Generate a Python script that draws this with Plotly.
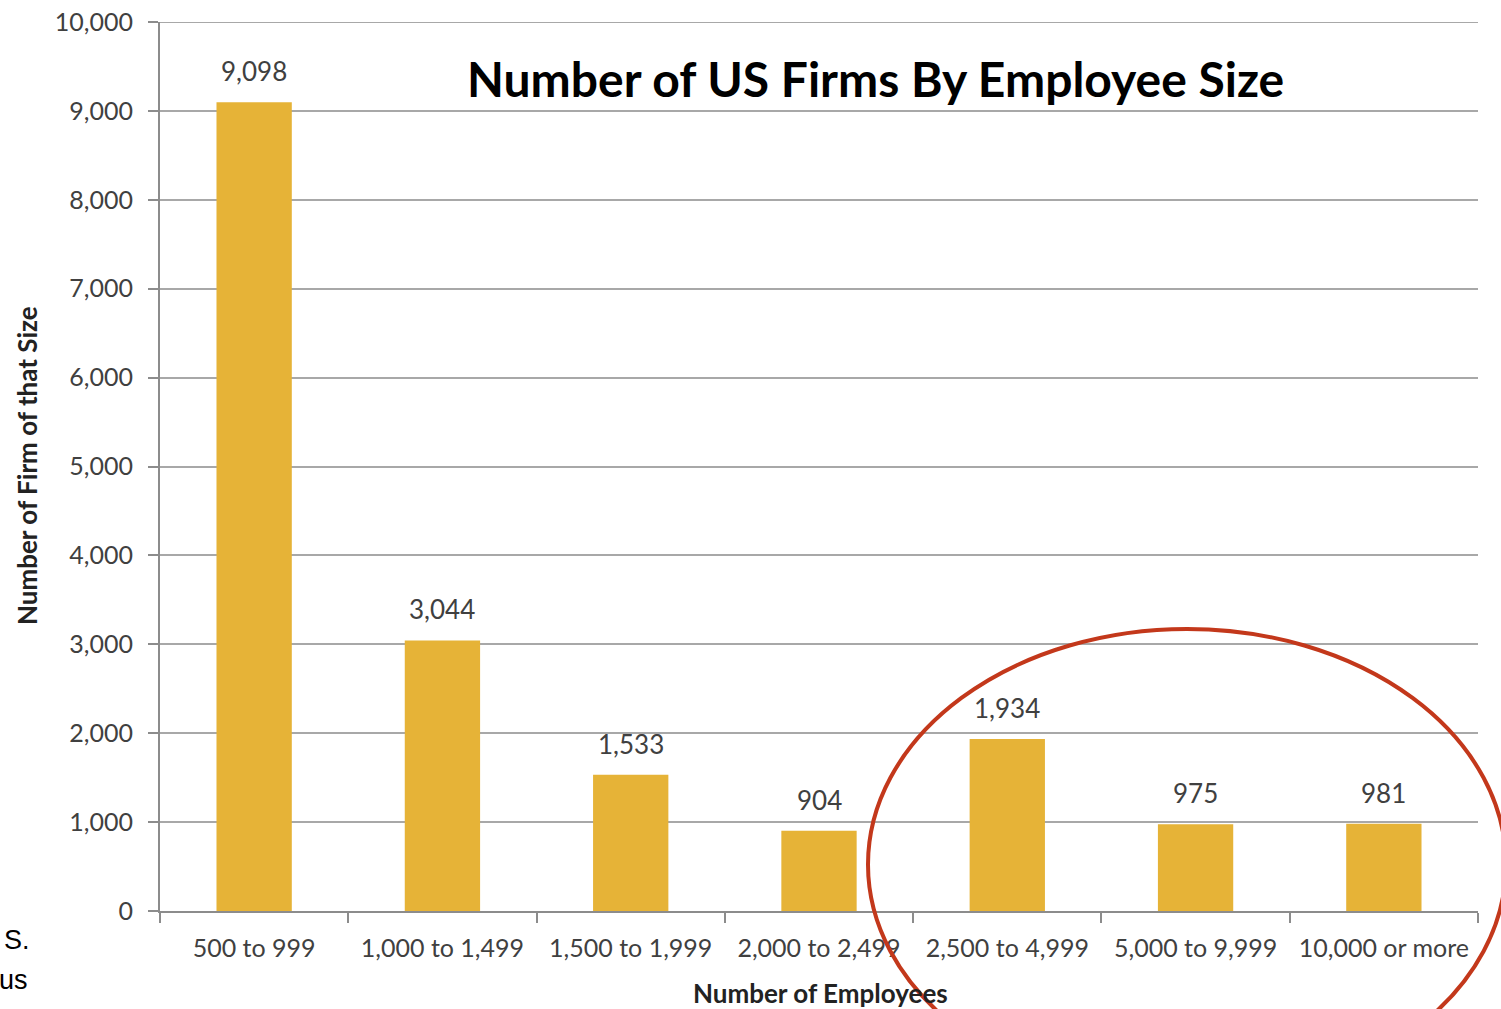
import plotly.graph_objects as go

# Firm counts by employee size class
categories = ["500 to 999", "1,000 to 1,499", "1,500 to 1,999", "2,000 to 2,499",
              "2,500 to 4,999", "5,000 to 9,999", "10,000 or more"]
firm_counts = [9098, 3044, 1533, 904, 1934, 975, 981]
y_ticks = [0, 1000, 2000, 3000, 4000, 5000, 6000, 7000, 8000, 9000, 10000]

W, H = 1501, 1009
L, R, T, B = 160, 23, 22, 98
FONT = "Lato"
BAR = "#E6B337"
TXT = "#404040"

def px_x(p):
    return (p - L) / (W - L - R)

def px_y(p):
    return (H - B - p) / (H - T - B)

fig = go.Figure(go.Bar(
    x=categories, y=firm_counts, marker=dict(color=BAR, line=dict(width=0)),
    width=0.4, hoverinfo="x+y",
))

# value labels above bars
for c, v in zip(categories, firm_counts):
    fig.add_annotation(x=c, y=v, text=f"{v:,}", showarrow=False, yanchor="bottom",
                       yshift=13, font=dict(family=FONT, size=26, color=TXT))

fig.update_layout(
    width=W, height=H, margin=dict(l=L, r=R, t=T, b=B),
    paper_bgcolor="white", plot_bgcolor="white", showlegend=False,
    bargap=0.6,
)
fig.update_yaxes(
    range=[0, 10000], tickvals=y_ticks, tickformat=",d", automargin=False,
    showgrid=True, gridcolor="#A8A8A8", gridwidth=2,
    showline=True, linecolor="#8C8C8C", linewidth=2,
    ticks="outside", ticklen=10, tickcolor="#8C8C8C", tickwidth=2,
    tickfont=dict(family=FONT, size=25, color=TXT), ticklabelstandoff=10,
    zeroline=False,
)
fig.update_xaxes(
    showline=True, linecolor="#8C8C8C", linewidth=2, automargin=False,
    ticks="outside", ticklen=10, tickcolor="#8C8C8C", tickwidth=2,
    tickson="boundaries", tickfont=dict(family=FONT, size=25, color=TXT),
    ticklabelstandoff=14,
)

# gridline along the top of the value range
fig.add_shape(type="line", xref="paper", yref="y", x0=0, x1=1, y0=10000, y1=10000,
              line=dict(color="#A8A8A8", width=2), layer="below")

# title and axis titles
fig.add_annotation(xref="paper", yref="paper", x=px_x(876), y=px_y(78), text="<b>Number of US Firms By Employee Size</b>",
                   showarrow=False, xanchor="center", yanchor="middle",
                   font=dict(family=FONT, size=48, color="black"))
fig.add_annotation(xref="paper", yref="paper", x=px_x(820), y=px_y(993), text="<b>Number of Employees</b>",
                   showarrow=False, xanchor="center", yanchor="middle",
                   font=dict(family=FONT, size=26, color="#222222"))
fig.add_annotation(xref="paper", yref="paper", x=px_x(27), y=px_y(466), text="<b>Number of Firm of that Size</b>",
                   showarrow=False, textangle=-90, xanchor="center", yanchor="middle",
                   font=dict(family=FONT, size=26, color="#222222"))

# text fragments at the lower left edge
fig.add_annotation(xref="paper", yref="paper", x=px_x(32), y=px_y(940), text="S.",
                   showarrow=False, xanchor="right", yanchor="middle",
                   font=dict(family="Liberation Sans", size=27, color="black"))
fig.add_annotation(xref="paper", yref="paper", x=px_x(30), y=px_y(980), text="us",
                   showarrow=False, xanchor="right", yanchor="middle",
                   font=dict(family="Liberation Sans", size=27, color="black"))

# red highlight ellipse around the larger size classes
fig.add_shape(type="circle", xref="paper", yref="paper",
              x0=px_x(868), x1=px_x(1506), y0=px_y(629), y1=px_y(1100),
              line=dict(color="#C3381B", width=4), fillcolor="rgba(0,0,0,0)")

fig.write_html("out.html")
